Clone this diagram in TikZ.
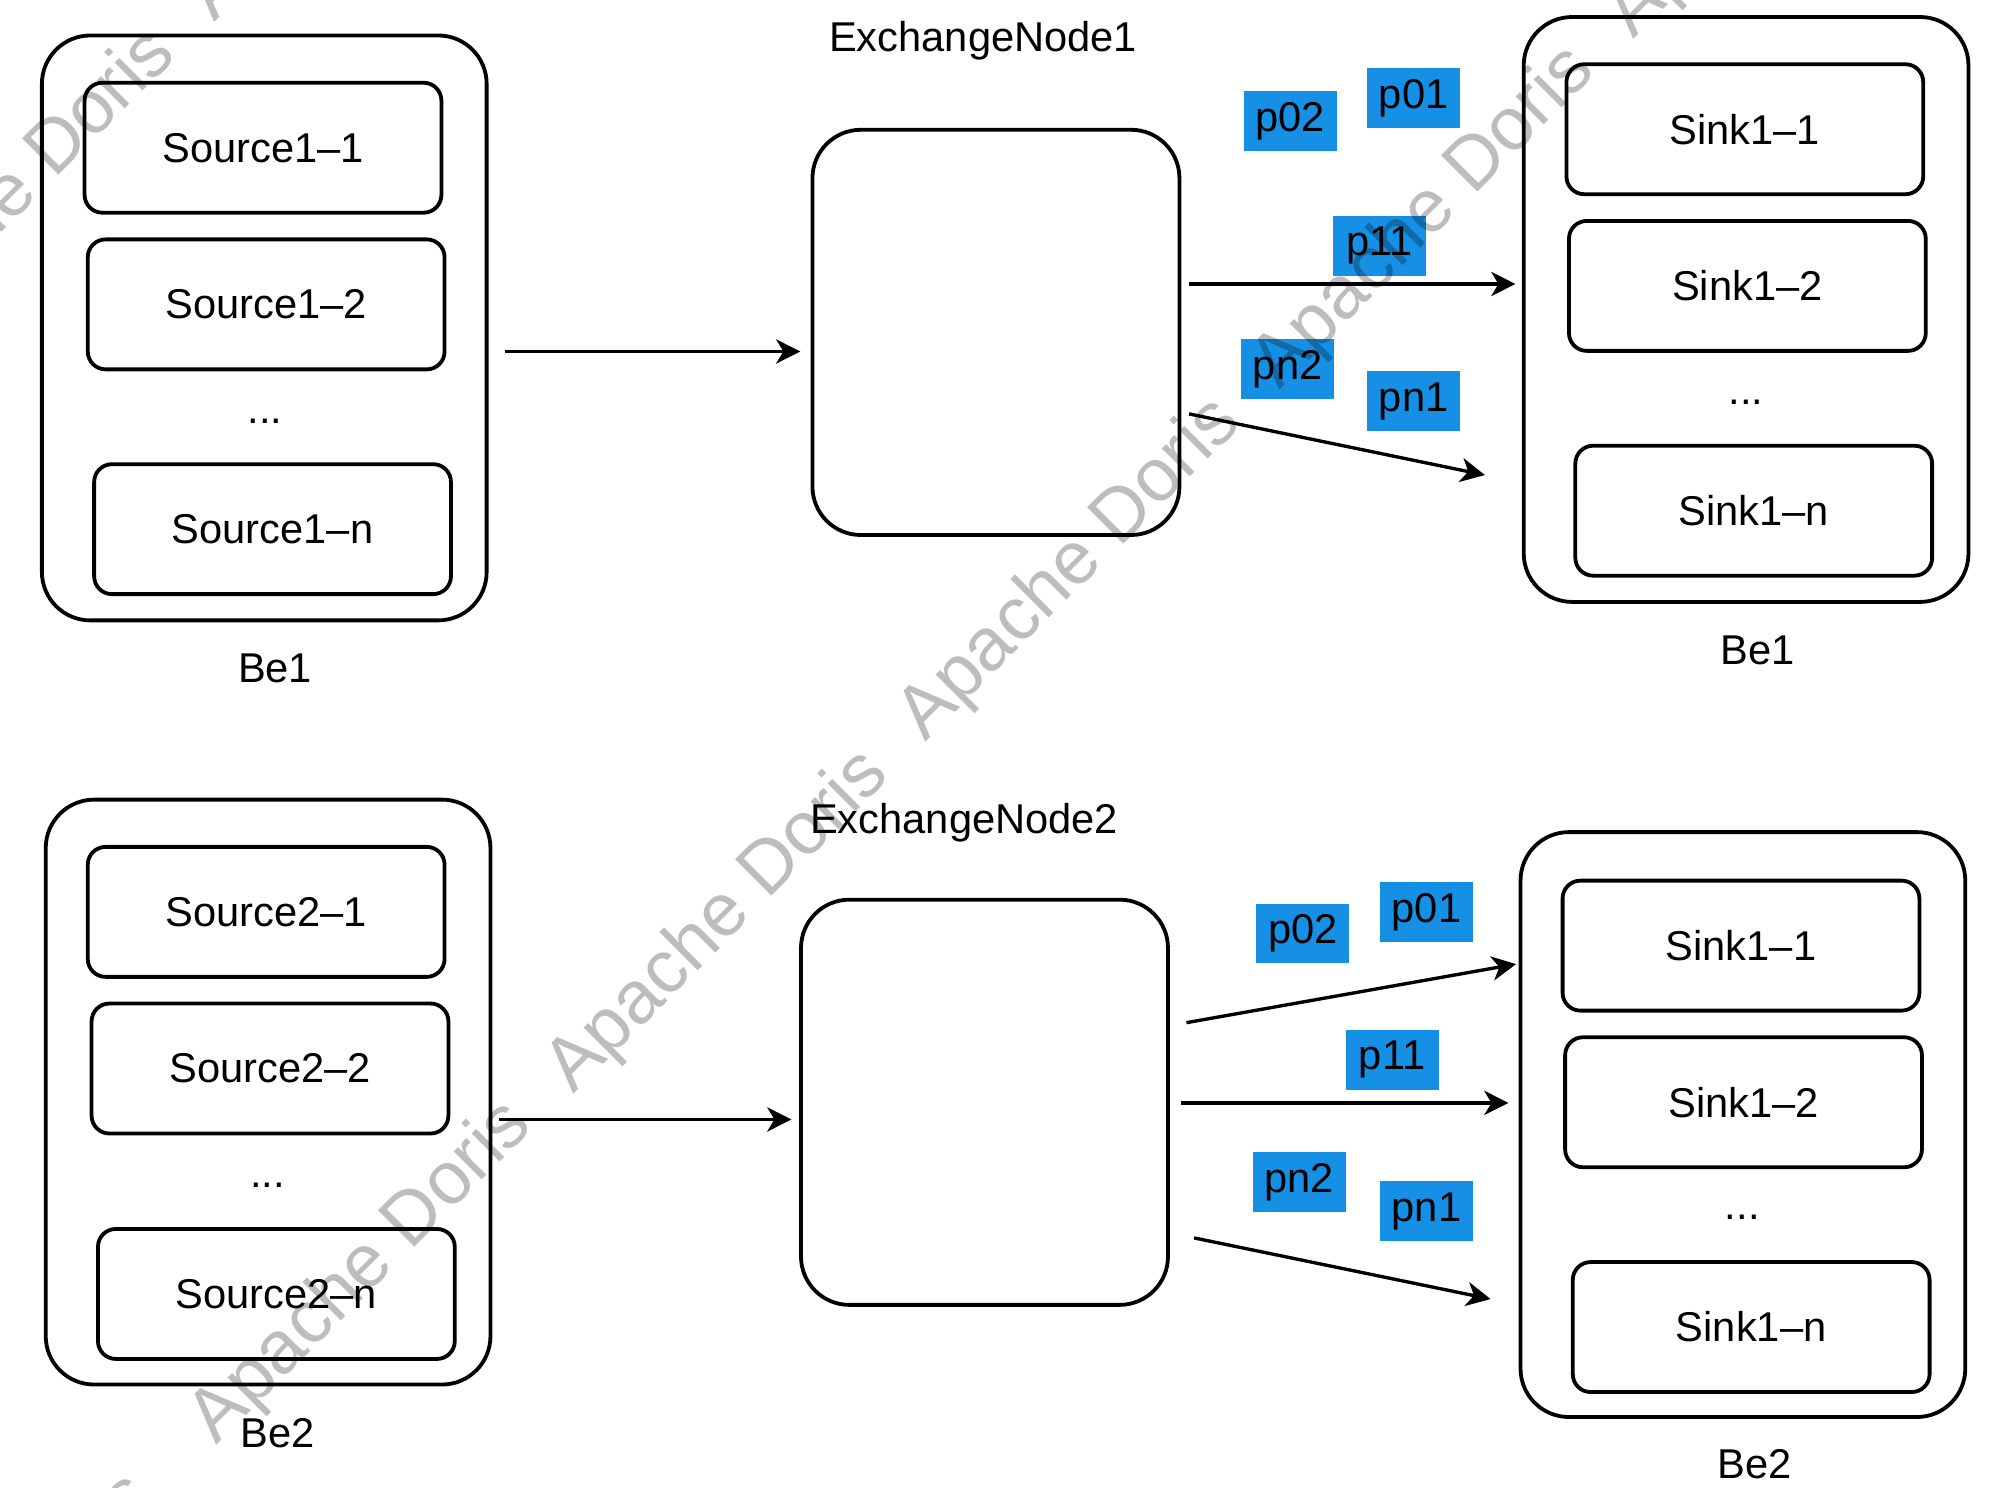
\documentclass[tikz,border=0pt]{standalone}
\usepackage{fontspec}
\setmainfont{Liberation Sans}
\usetikzlibrary{arrows.meta}
\definecolor{partblue}{RGB}{22,144,228}
\begin{document}
\begin{tikzpicture}[x=0.01cm, y=-0.01cm,
  font=\fontsize{9.3pt}{11pt}\selectfont,
  benode/.style={draw, line width=0.85pt, rounded corners=0.38cm,
    minimum width=3.49cm, minimum height=4.59cm, inner sep=0pt},
  exnode/.style={draw, line width=0.85pt, rounded corners=0.38cm,
    minimum width=2.88cm, minimum height=3.18cm, inner sep=0pt},
  task/.style={draw, line width=0.85pt, rounded corners=0.14cm,
    minimum width=2.8cm, minimum height=1.02cm, inner sep=0pt},
  part/.style={fill=partblue, minimum width=0.73cm, minimum height=0.47cm, inner sep=0pt},
  caption/.style={inner sep=1pt},
  flow/.style={line width=0.75pt, -{Stealth[length=5.4pt, width=5.4pt, inset=1.6pt]}},
  wmark/.style={font=\fontsize{16.7pt}{18pt}\selectfont, text=black, opacity=0.26,
    rotate=45, anchor=base, inner sep=0pt}
]
\useasboundingbox (0,0) rectangle (1568,1168);

% ---------------- first fragment ----------------
\node[benode] (beL1) at (207.5,257.5) {};
\node[task] (src11) at (206.5,116) {Source1–1};
\node[task] (src12) at (209,239) {Source1–2};
\node[caption] (dotsL1) at (208,331) {...};
\node[task] (src1n) at (214,415.5) {Source1–n};
\node[caption] (capL1) at (216,525) {Be1};

\node[caption] (exlab1) at (772,32) {ExchangeNode1};
\node[exnode] (ex1) at (782,261) {};

\node[benode] (beR1) at (1371,243) {};
\node[task] (snk11) at (1370,101.5) {Sink1–1};
\node[task] (snk12) at (1372,224.5) {Sink1–2};
\node[caption] (dotsR1) at (1371,316) {...};
\node[task] (snk1n) at (1377,401) {Sink1–n};
\node[caption] (capR1) at (1380,511) {Be1};

\node[part] (p02a) at (1013,95) {p02};
\node[part] (p01a) at (1110,77) {p01};
\node[part] (p11a) at (1083,193) {p11};
\node[part] (pn2a) at (1011,290) {pn2};
\node[part] (pn1a) at (1110,315) {pn1};

\draw[flow] ([shift={(13,18.5)}]beL1.east) -- ([shift={(-8,15)}]ex1.west);
\draw[flow] ([shift={(6,-38)}]ex1.east) -- ([shift={(-5,-20)}]beR1.west);
\draw[flow] ([shift={(6,64)}]ex1.east) -- ([shift={(-29,130)}]beR1.west);

% ---------------- second fragment ----------------
\node[benode] (beL2) at (210.5,857.5) {};
\node[task] (src21) at (209,716) {Source2–1};
\node[task] (src22) at (212,839) {Source2–2};
\node[caption] (dotsL2) at (210,931) {...};
\node[task] (src2n) at (217,1016) {Source2–n};
\node[caption] (capL2) at (218,1125) {Be2};

\node[caption] (exlab2) at (757,646) {ExchangeNode2};
\node[exnode] (ex2) at (773,865.5) {};

\node[benode] (beR2) at (1368.5,883) {};
\node[task] (snk21) at (1367,742.5) {Sink1–1};
\node[task] (snk22) at (1369,865.5) {Sink1–2};
\node[caption] (dotsR2) at (1368,956) {...};
\node[task] (snk2n) at (1375,1042) {Sink1–n};
\node[caption] (capR2) at (1378,1150) {Be2};

\node[part] (p02b) at (1023,733) {p02};
\node[part] (p01b) at (1120,716) {p01};
\node[part] (p11b) at (1093,832) {p11};
\node[part] (pn2b) at (1020,928) {pn2};
\node[part] (pn1b) at (1120,951) {pn1};

\draw[flow] ([shift={(5,21.5)}]beL2.east) -- ([shift={(-6,13.5)}]ex2.west);
\draw[flow] ([shift={(13,-62.5)}]ex2.east) -- ([shift={(-2,-126)}]beR2.west);
\draw[flow] ([shift={(9,0.5)}]ex2.east) -- ([shift={(-8,-17)}]beR2.west);
\draw[flow] ([shift={(19,106.5)}]ex2.east) -- ([shift={(-22,137)}]beR2.west);

% ---------------- watermark tiles ----------------
\node[wmark] (wm1) at (851,458) {Apache Doris};
\node[wmark] (wm2) at (1129,182) {Apache Doris};
\node[wmark] (wm3) at (575,735) {Apache Doris};
\node[wmark] (wm4) at (295,1010) {Apache Doris};
\node[wmark] (wm5) at (-2,1303) {Apache Doris};
\node[wmark] (wm6) at (15,169) {Apache Doris};
\node[wmark] (wm7) at (293,-107) {Apache Doris};
\node[wmark] (wm8) at (1407,-94) {Apache Doris};
\end{tikzpicture}
\end{document}
